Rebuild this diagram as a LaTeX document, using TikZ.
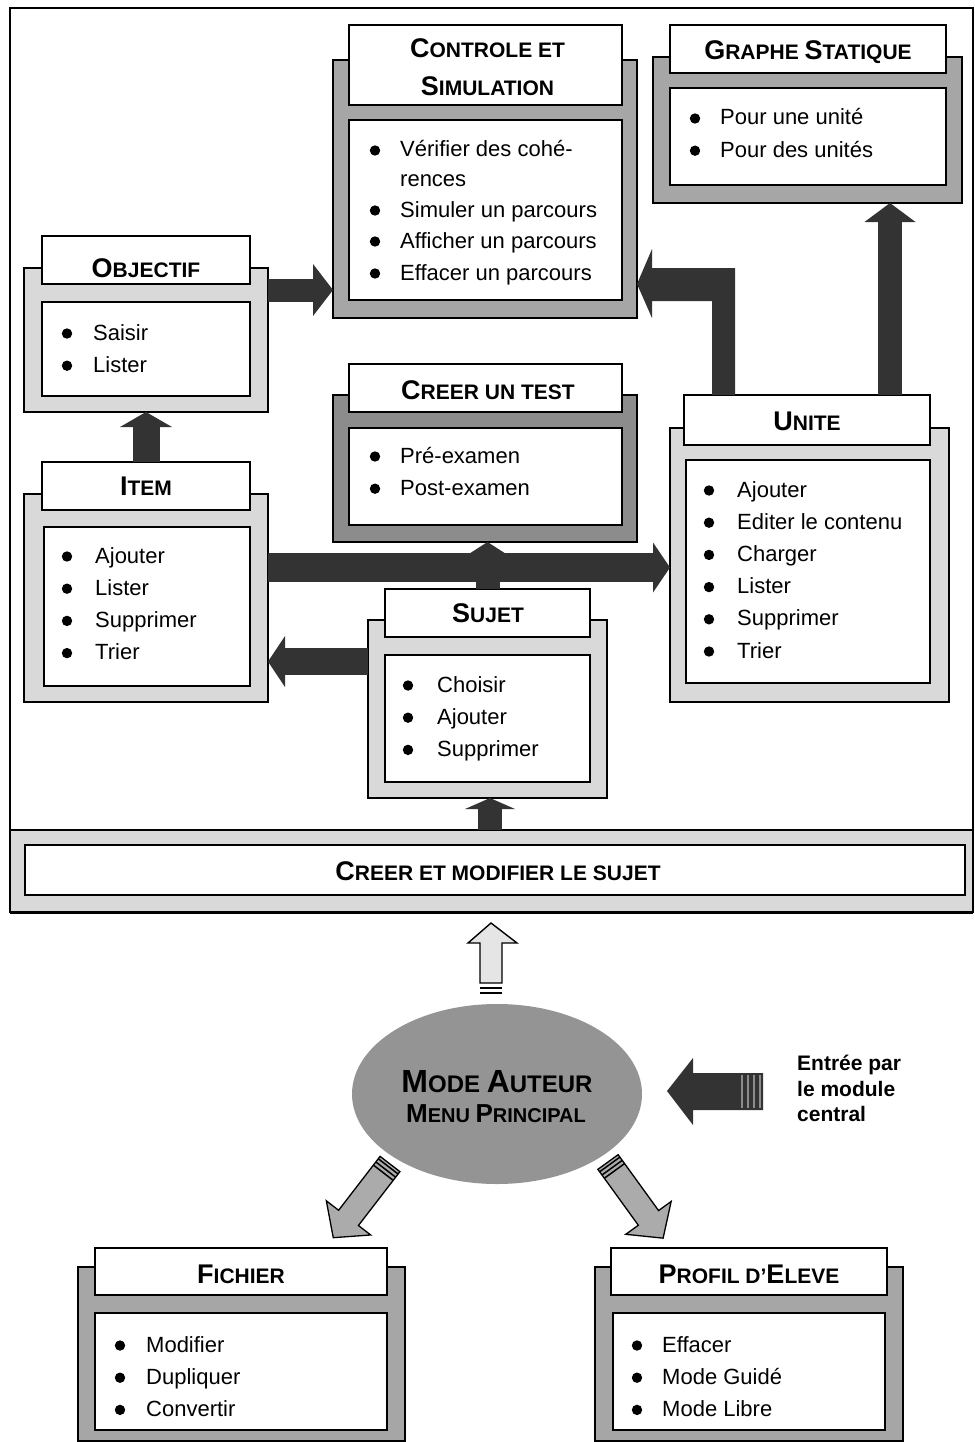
\documentclass[tikz,border=0pt]{standalone}
\usepackage{fontspec}
\setmainfont{Liberation Sans}
\usetikzlibrary{calc,arrows.meta,shapes.geometric}

\newcommand\SC[2]{{\fontsize{27}{30}\selectfont #1}{\fontsize{21}{24}\selectfont #2}}
\newcommand\rbox[6]{\node[#6, anchor=north west, inner sep=0pt, outer sep=0pt, minimum width={(#4-#2)*1pt}, minimum height={(#5-#3)*1pt}] (#1) at (#2,#3) {};}
\newcommand\ilist[5]{\foreach \t [count=\i] in {#5} {\node[itm] (#1\i) at ({#3},{#4+(\i-1)*32.2}) {\t}; \fill ({#2},{#4+(\i-1)*32.2-6.5}) circle[radius=5.2pt];}}

\begin{document}
\begin{tikzpicture}[x=1pt,y=-1pt,
  frL/.style={draw=black, line width=1.3pt, fill=black!15},
  frD/.style={draw=black, line width=1.3pt, fill=black!35},
  frDD/.style={draw=black, line width=1.3pt, fill=black!45},
  wbox/.style={draw=black, line width=1.5pt, fill=white},
  ttl/.style={font=\bfseries, inner sep=0pt, anchor=base},
  itm/.style={font=\fontsize{22}{26}\selectfont, inner sep=0pt, anchor=base west},
  ent/.style={font=\bfseries\fontsize{21}{24}\selectfont, inner sep=0pt, anchor=base west},
  blkar/.style n args={3}{draw=black!80, line width=#1, -{Triangle[width=#2 0, length=#3 0, line width=0pt 0]}},
  diag/.style={draw=black, line width=1.3pt, fill=black!33, line join=miter}
]
\useasboundingbox (0,0) rectangle (974,1442);
\fill[white] (0,0) rectangle (974,1442);

% outer frame and bottom bar
\draw[line width=2pt] (10,8) rectangle (973,912);
\rbox{barF}{10}{830}{973}{912}{frL}
\rbox{barW}{25}{845}{965}{895}{wbox}
\draw[line width=3pt] (barF.south west) -- (barF.south east);
\node[ttl] (barTx) at (498,880) {\SC{C}{REER ET MODIFIER LE SUJET}};

% Controle et simulation
\rbox{ctrlF}{333}{60}{637}{318}{frD}
\rbox{ctrlT}{349}{25}{622}{105}{wbox}
\rbox{ctrlC}{349}{120}{622}{300}{wbox}
\node[ttl] (ctrlTa) at (487.5,58) {\SC{C}{ONTROLE ET}};
\node[ttl] (ctrlTb) at (487.5,96) {\SC{S}{IMULATION}};
\node[itm] (ctrl1) at (400,157) {Vérifier des cohé-};
\node[itm] (ctrl2) at (400,186) {rences};
\node[itm] (ctrl3) at (400,217) {Simuler un parcours};
\node[itm] (ctrl4) at (400,248) {Afficher un parcours};
\node[itm] (ctrl5) at (400,280) {Effacer un parcours};
\foreach \yy in {157,217,248,280} \fill (375,{\yy-6.5}) circle[radius=5.2pt];

% Graphe statique
\rbox{grF}{653}{57}{962}{203}{frD}
\rbox{grT}{670}{25}{946}{73}{wbox}
\rbox{grC}{670}{88}{946}{185}{wbox}
\node[ttl] (grTx) at (808,60) {\SC{G}{RAPHE }\SC{S}{TATIQUE}};
\ilist{gr}{695}{720}{125}{Pour une unité, Pour des unités}

% Objectif
\rbox{objF}{24}{268}{268}{412}{frL}
\rbox{objT}{42}{236}{250}{284}{wbox}
\rbox{objC}{42}{302}{250}{396}{wbox}
\node[ttl] (objTx) at (146,277) {\SC{O}{BJECTIF}};
\ilist{obj}{67}{93}{340}{Saisir, Lister}

% Item
\rbox{itemF}{24}{494}{268}{702}{frL}
\rbox{itemT}{42}{462}{250}{510}{wbox}
\rbox{itemC}{44}{527}{250}{686}{wbox}
\node[ttl] (itemTx) at (146,495) {\SC{I}{TEM}};
\ilist{item}{67}{95}{563}{Ajouter, Lister, Supprimer, Trier}

% Creer un test
\rbox{testF}{333}{395}{637}{542}{frDD}
\rbox{testT}{349}{364}{622}{412}{wbox}
\rbox{testC}{349}{428}{622}{525}{wbox}
\node[ttl] (testTx) at (488,399) {\SC{C}{REER UN TEST}};
\ilist{test}{375}{400}{463}{Pré-examen, Post-examen}

% Unite
\rbox{unitF}{670}{428}{949}{702}{frL}
\rbox{unitT}{684}{395}{930}{445}{wbox}
\rbox{unitC}{686}{460}{930}{683}{wbox}
\node[ttl] (unitTx) at (807,430) {\SC{U}{NITE}};
\ilist{unit}{709}{737}{497}{Ajouter, Editer le contenu, Charger, Lister, Supprimer, Trier}

% Sujet
\rbox{sujF}{368}{620}{607}{798}{frL}
\rbox{sujT}{385}{589}{590}{637}{wbox}
\rbox{sujC}{385}{655}{590}{782}{wbox}
\node[ttl] (sujTx) at (488,622) {\SC{S}{UJET}};
\ilist{suj}{408}{437}{692}{Choisir, Ajouter, Supprimer}

% Fichier
\rbox{ficF}{78}{1267}{405}{1441}{frD}
\rbox{ficT}{95}{1248}{387}{1295}{wbox}
\rbox{ficC}{95}{1313}{387}{1430}{wbox}
\node[ttl] (ficTx) at (241,1283) {\SC{F}{ICHIER}};
\ilist{fic}{120}{146}{1352}{Modifier, Dupliquer, Convertir}

% Profil d'eleve
\rbox{proF}{595}{1267}{903}{1441}{frD}
\rbox{proT}{611}{1248}{887}{1295}{wbox}
\rbox{proC}{613}{1313}{885}{1430}{wbox}
\node[ttl] (proTx) at (749,1283) {\SC{P}{ROFIL D'}\SC{E}{LEVE}};
\ilist{pro}{637}{662}{1352}{Effacer, Mode Guidé, Mode Libre}

% Mode auteur
\node[ellipse, fill=black!42, minimum width=290pt, minimum height=180pt, inner sep=0pt] (auteur) at (497,1094) {};
\node[ttl] (aut1) at (497,1092) {{\fontsize{32}{34}\selectfont M}{\fontsize{24}{26}\selectfont ODE }{\fontsize{32}{34}\selectfont A}{\fontsize{24}{26}\selectfont UTEUR}};
\node[ttl] (aut2) at (496,1122) {{\fontsize{26}{28}\selectfont M}{\fontsize{20}{22}\selectfont ENU }{\fontsize{26}{28}\selectfont P}{\fontsize{20}{22}\selectfont RINCIPAL}};

\node[ent] (ent1) at (797,1070) {Entrée par};
\node[ent] (ent2) at (797,1096) {le module};
\node[ent] (ent3) at (797,1121) {central};

% block arrows (connectors)
\coordinate (oc) at ($(objF.north east)+(0,22)$);
\coordinate (ug) at ($(unitT.north east)+(-40,0)$);
\coordinate (iu) at ($(itemF.north east)+(0,73.5)$);
\coordinate (si) at ($(sujF.north west)+(0,41.5)$);
\coordinate (bs) at ($(barF.north west)+(480,0)$);
\coordinate (ue) at ($(unitT.north west)+(28,0)$);

\draw[blkar={23pt}{52pt}{20pt}] (oc) -- (oc -| ctrlF.west);
\draw[blkar={27pt}{52pt}{15pt}] (itemT.north) -- (objF.south);
\draw[blkar={24pt}{51pt}{19pt}] (ug) -- (ug |- grF.south);
\draw[blkar={29pt}{50pt}{17pt}] (iu) -- (iu -| unitF.west);
\draw[blkar={24pt}{56pt}{18pt}] (sujT.north) -- (sujT.north |- testF.south);
\draw[blkar={27pt}{51pt}{17pt}] (si) -- (si -| itemF.east);
\draw[blkar={24pt}{50pt}{11pt}] (bs) -- (bs |- sujF.south);

% elbow arrow Unite -> Controle
\fill[black!80] (ue) -- (ue |- 0,301) -- (652,301) -- (652,318) -- (ctrlF.east |- 0,284) -- (652,249) -- (652,268) -- (735,268) -- (735,395) -- cycle;

% open arrow Mode auteur -> bar
\draw[line width=1.4pt, fill=black!10, line join=miter] (480,983) -- (480,943) -- (468,943) -- (491,923) -- (517,943) -- (502,943) -- (502,983) -- cycle;
\draw[line width=1.6pt] (480,988) -- (502,988) (480,993) -- (502,993);

% entry arrow
\fill[black!80] (763,1073) -- (693,1073) -- (693,1058) -- (667,1091) -- (693,1125) -- (693,1110) -- (763,1110) -- cycle;
\foreach \xx in {742,748,754,760} \draw[black!45, line width=1.2pt] (\xx,1075) -- (\xx,1108);

% diagonal arrows
\begin{scope}[shift={(390,1164)}, rotate=-127.6]
  \draw[diag] (0,-12.5) -- (68,-12.5) -- (68,-28) -- (93,0) -- (68,28) -- (68,12.5) -- (0,12.5) -- cycle;
  \foreach \s in {3,7,11} \draw[line width=1.5pt] (\s,-12.5) -- (\s,12.5);
\end{scope}
\begin{scope}[shift={(608,1162)}, rotate=-54.1]
  \draw[diag] (0,-12.5) -- (69,-12.5) -- (69,-28) -- (94,0) -- (69,28) -- (69,12.5) -- (0,12.5) -- cycle;
  \foreach \s in {3,7,11} \draw[line width=1.5pt] (\s,-12.5) -- (\s,12.5);
\end{scope}
\end{tikzpicture}
\end{document}
